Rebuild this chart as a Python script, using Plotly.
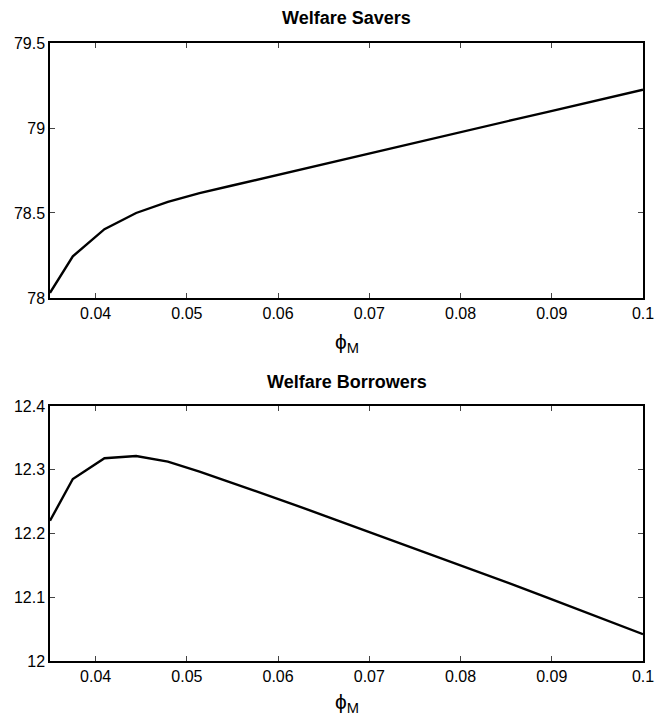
import plotly.graph_objects as go
from plotly.subplots import make_subplots

# Mortgage LTV parameter grid
phi_m = [0.035, 0.0375, 0.04097, 0.04444, 0.04792, 0.05139, 0.05486, 0.05833,
         0.06181, 0.06528, 0.06875, 0.07222, 0.07569, 0.07917, 0.08264,
         0.08611, 0.08958, 0.09306, 0.09653, 0.1]

# Welfare of savers
welfare_savers = [78.03, 78.245, 78.405, 78.50, 78.565, 78.617, 78.660, 78.704,
                  78.747, 78.791, 78.834, 78.878, 78.921, 78.965, 79.008,
                  79.052, 79.095, 79.138, 79.182, 79.225]

# Welfare of borrowers
welfare_borrowers = [12.220, 12.2855, 12.318, 12.3216, 12.3127, 12.297, 12.280,
                     12.263, 12.245, 12.227, 12.209, 12.191, 12.173, 12.155,
                     12.136, 12.118, 12.099, 12.080, 12.061, 12.042]

x_ticks = [0.04, 0.05, 0.06, 0.07, 0.08, 0.09, 0.1]
x_tick_text = ["0.04", "0.05", "0.06", "0.07", "0.08", "0.09", "0.1"]
savers_ticks = [78, 78.5, 79, 79.5]
savers_tick_text = ["78", "78.5", "79", "79.5"]
borrowers_ticks = [12, 12.1, 12.2, 12.3, 12.4]
borrowers_tick_text = ["12", "12.1", "12.2", "12.3", "12.4"]

FONT = "Liberation Sans, Arial, Helvetica, sans-serif"

fig = make_subplots(rows=2, cols=1, vertical_spacing=0.175)

fig.add_trace(go.Scatter(x=phi_m, y=welfare_savers, mode="lines",
                         line=dict(color="black", width=2.4), showlegend=False),
              row=1, col=1)
fig.add_trace(go.Scatter(x=phi_m, y=welfare_borrowers, mode="lines",
                         line=dict(color="black", width=2.4), showlegend=False),
              row=2, col=1)

axis_common = dict(showline=True, linecolor="black", linewidth=1.5, mirror="ticks",
                   ticks="inside", ticklen=5, tickcolor="#444", tickwidth=1,
                   showgrid=False, zeroline=False,
                   tickfont=dict(family=FONT, size=16, color="black"))

fig.update_xaxes(range=[0.035, 0.1], tickvals=x_ticks, ticktext=x_tick_text, **axis_common)
fig.update_yaxes(range=[78, 79.5], tickvals=savers_ticks, ticktext=savers_tick_text,
                 row=1, col=1, **axis_common)
fig.update_yaxes(range=[12, 12.4], tickvals=borrowers_ticks, ticktext=borrowers_tick_text,
                 row=2, col=1, **axis_common)

fig.update_layout(
    width=666, height=720,
    margin=dict(l=50, r=15, t=43, b=59),
    plot_bgcolor="white", paper_bgcolor="white",
    xaxis=dict(domain=[0, 1]), xaxis2=dict(domain=[0, 1]),
    yaxis=dict(domain=[0.5874, 1]), yaxis2=dict(domain=[0, 0.4126]),
)

annotations = [
    dict(text="<b>Welfare Savers</b>", x=0.5, y=1.0405, yanchor="middle"),
    dict(text="<b>Welfare Borrowers</b>", x=0.5, y=0.4515, yanchor="middle"),
]
for a in annotations:
    a.update(xref="paper", yref="paper", showarrow=False, xanchor="center",
             font=dict(family=FONT, size=18, color="black"))
    fig.add_annotation(**a)

# x-axis label: phi with subscript M under each panel
for y in [0.5146, -0.068]:
    fig.add_annotation(text="ϕ<sub>M</sub>", x=0.5, y=y, xref="paper", yref="paper",
                       showarrow=False, xanchor="center", yanchor="middle",
                       font=dict(family=FONT, size=21, color="black"))

fig.write_html("out.html")
